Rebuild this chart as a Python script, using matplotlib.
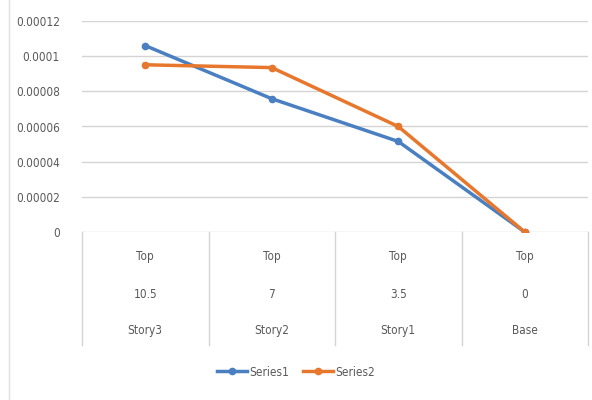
import matplotlib
matplotlib.use("Agg")
import matplotlib.pyplot as plt
import matplotlib.transforms as mtransforms
from matplotlib import font_manager

# data
levels = ["Top", "Top", "Top", "Top"]
heights = ["10.5", "7", "3.5", "0"]
stories = ["Story3", "Story2", "Story1", "Base"]
series1 = [0.000106, 0.0000758, 0.0000515, 0.0]
series2 = [0.0000951, 0.0000935, 0.0000600, 0.0]
yticks = [0, 0.00002, 0.00004, 0.00006, 0.00008, 0.0001, 0.00012]
ytick_labels = ["0", "0.00002", "0.00004", "0.00006", "0.00008", "0.0001", "0.00012"]

names = {f.name for f in font_manager.fontManager.ttflist}
fam = "Liberation Sans Narrow" if "Liberation Sans Narrow" in names else "DejaVu Sans"
plt.rcParams["font.family"] = [fam, "DejaVu Sans"]
plt.rcParams["font.stretch"] = "condensed"
fs = 8.5

txt = "#595959"
grid = "#d4d4d4"
blue = "#4a7fc1"
orange = "#e8772e"

fig = plt.figure(figsize=(5.92, 4.0), dpi=100)
ax = fig.add_axes([82 / 592, 168 / 400, 506 / 592, 211 / 400])

x = list(range(len(stories)))
ax.plot(x, series1, color=blue, lw=2.5, marker="o", ms=4.5, label="Series1", zorder=3)
ax.plot(x, series2, color=orange, lw=2.5, marker="o", ms=4.5, label="Series2", zorder=3)

ax.set_xlim(-0.5, 3.5)
ax.set_ylim(0, 0.00012)
ax.set_yticks(yticks)
ax.set_yticklabels(ytick_labels, fontsize=fs, color=txt)
ax.tick_params(axis="y", length=0, pad=16)
ax.set_xticks([])
ax.grid(axis="y", color=grid, lw=1)
ax.set_axisbelow(True)
for s in ax.spines.values():
    s.set_visible(False)

# multi-level category axis
tr = mtransforms.blended_transform_factory(ax.transData, ax.transAxes)
rows = [(-0.118, levels), (-0.294, heights), (-0.469, stories)]
for yy, labs in rows:
    for i, lab in enumerate(labs):
        ax.text(i, yy, lab, transform=tr, ha="center", va="center",
                fontsize=fs, color=txt)
for b in [-0.5, 0.5, 1.5, 2.5, 3.5]:
    ax.plot([b, b], [0, -0.536], transform=tr, color=grid, lw=1, clip_on=False)

# chart border on the left
fig.add_artist(plt.Line2D([9 / 592, 9 / 592], [0, 1], color="#e0e0e0", lw=1))

fig.legend(loc="center", bbox_to_anchor=(0.5, 0.07), ncol=2, frameon=False,
           fontsize=fs, labelcolor=txt, handlelength=2.5, columnspacing=1.2,
           handletextpad=0.2)

fig.savefig("out.png", dpi=100, facecolor="white")
